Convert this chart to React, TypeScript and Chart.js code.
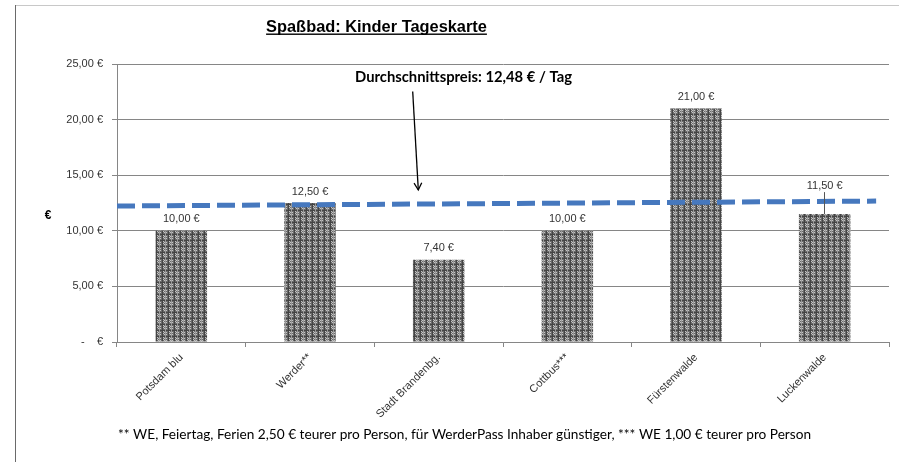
import React, { useEffect, useRef } from "react";
import { Chart, registerables } from "chart.js";

Chart.register(...registerables);

// ---- data ----
const categories = ["Potsdam blu", "Werder**", "Stadt Brandenbg.", "Cottbus***", "Fürstenwalde", "Luckenwalde"];
const prices = [10, 12.5, 7.4, 10, 21, 11.5];
const yMin = 0;
const yMax = 25;
const yStep = 5;
const trendX = [0, 5.9];
const trendY = [12.23, 12.67];
const titleText = "Spaßbad: Kinder Tageskarte";
const averageText = "Durchschnittspreis: 12,48 € / Tag";
const footnoteText =
  "** WE, Feiertag, Ferien 2,50 € teurer pro Person, für WerderPass Inhaber günstiger, *** WE 1,00 € teurer pro Person";
const yAxisTitle = "€";
const leaderLabelIndex = 5;

const fmtEuro = (v: number) =>
  v === 0 ? "-\u00a0\u00a0\u00a0\u00a0€" : v.toFixed(2).replace(".", ",") + " €";

function makePattern(ctx: CanvasRenderingContext2D) {
  const c = document.createElement("canvas");
  c.width = 6;
  c.height = 6;
  const g = c.getContext("2d")!;
  g.fillStyle = "#6a6a6a";
  g.fillRect(0, 0, 6, 6);
  g.fillStyle = "#c4c4c4";
  for (let r = 1; r <= 4; r++) {
    for (let col = 1; col <= 4; col++) {
      if ((r + col) % 2 === 0) g.fillRect(col, r, 1, 1);
    }
  }
  g.fillStyle = "#444444";
  g.fillRect(0, 0, 6, 1);
  g.fillRect(0, 0, 1, 6);
  g.fillStyle = "#9a9a9a";
  g.fillRect(3, 0, 1, 6);
  return ctx.createPattern(c, "repeat")!;
}

const TEXT_COLOR = "#333333";
const GRID_COLOR = "#868686";
const SANS = '"Liberation Sans", Arial, sans-serif';

const decorPlugin = {
  id: "decor",
  beforeDraw(chart: any) {
    const ctx = chart.ctx as CanvasRenderingContext2D;
    ctx.save();
    ctx.fillStyle = "#ffffff";
    ctx.fillRect(0, 0, chart.width, chart.height);
    ctx.strokeStyle = "#c8c8c8";
    ctx.lineWidth = 1;
    ctx.beginPath();
    ctx.moveTo(15, 5.5);
    ctx.lineTo(chart.width, 5.5);
    ctx.stroke();
    ctx.strokeStyle = "#6a6a6a";
    ctx.beginPath();
    ctx.moveTo(15.5, 5);
    ctx.lineTo(15.5, chart.height);
    ctx.stroke();
    ctx.restore();
  },
  afterDraw(chart: any) {
    const ctx = chart.ctx as CanvasRenderingContext2D;
    ctx.save();

    // title (bold, underlined), fitted to reference width
    ctx.fillStyle = "#000";
    ctx.textAlign = "left";
    ctx.textBaseline = "alphabetic";
    ctx.font = `bold 16px ${SANS}`;
    let w = ctx.measureText(titleText).width;
    let size = (16 * 221) / w;
    ctx.font = `bold ${size.toFixed(2)}px ${SANS}`;
    const tw = ctx.measureText(titleText).width;
    const tx = 376.5 - tw / 2;
    ctx.fillText(titleText, tx, 32);
    ctx.fillRect(tx, 33.5, tw, 1.4);

    // y axis title
    ctx.font = `bold 12px ${SANS}`;
    ctx.textAlign = "center";
    ctx.textBaseline = "middle";
    ctx.fillText(yAxisTitle, 48, 216);

    // average annotation (fit width)
    ctx.textAlign = "left";
    ctx.font = `bold 14px Lato, "Open Sans", sans-serif`;
    w = ctx.measureText(averageText).width;
    size = (14 * 217) / w;
    ctx.font = `bold ${size.toFixed(2)}px Lato, "Open Sans", sans-serif`;
    ctx.fillText(averageText, 355, 77);

    // arrow
    const x1 = 412.7, y1 = 91.5, x2 = 418.3, y2 = 190;
    ctx.strokeStyle = "#000";
    ctx.lineWidth = 1.3;
    ctx.beginPath();
    ctx.moveTo(x1, y1);
    ctx.lineTo(x2, y2);
    ctx.stroke();
    const ang = Math.atan2(y2 - y1, x2 - x1);
    const ah = 8;
    ctx.beginPath();
    ctx.moveTo(x2 - ah * Math.cos(ang - 0.5), y2 - ah * Math.sin(ang - 0.5));
    ctx.lineTo(x2, y2);
    ctx.lineTo(x2 - ah * Math.cos(ang + 0.5), y2 - ah * Math.sin(ang + 0.5));
    ctx.stroke();

    // bar value labels
    const meta = chart.getDatasetMeta(1);
    ctx.font = `11px ${SANS}`;
    ctx.fillStyle = TEXT_COLOR;
    ctx.textAlign = "center";
    ctx.textBaseline = "middle";
    meta.data.forEach((el: any, i: number) => {
      const v = prices[i];
      if (i === leaderLabelIndex) {
        ctx.fillText(fmtEuro(v), el.x, el.y - 28);
        ctx.strokeStyle = "#555";
        ctx.lineWidth = 1;
        ctx.beginPath();
        ctx.moveTo(Math.round(el.x) - 0.5, el.y - 22);
        ctx.lineTo(Math.round(el.x) - 0.5, el.y);
        ctx.stroke();
      } else {
        ctx.fillText(fmtEuro(v), el.x, el.y - 11.5);
      }
    });

    // footnote (fit width)
    ctx.fillStyle = "#000";
    ctx.textAlign = "left";
    ctx.font = `13px Lato, "Open Sans", sans-serif`;
    w = ctx.measureText(footnoteText).width;
    size = (13 * 694) / w;
    ctx.font = `${size.toFixed(2)}px Lato, "Open Sans", sans-serif`;
    ctx.fillText(footnoteText, 118, 435);

    ctx.restore();
  },
};

export default function App() {
  const ref = useRef<HTMLCanvasElement | null>(null);

  useEffect(() => {
    document.body.style.margin = "0";
    const canvas = ref.current!;
    const ctx = canvas.getContext("2d")!;
    const pattern = makePattern(ctx);

    const chart = new Chart(canvas, {
      type: "bar",
      data: {
        labels: categories,
        datasets: [
          {
            type: "line",
            label: "Durchschnitt",
            data: trendX.map((x, i) => ({ x, y: trendY[i] })),
            xAxisID: "xl",
            yAxisID: "y",
            borderColor: "#4678BE",
            borderWidth: 5,
            borderDash: [18, 7],
            borderCapStyle: "butt",
            pointRadius: 0,
            fill: false,
            tension: 0,
            order: 0,
          } as any,
          {
            type: "bar",
            label: "Preis",
            data: prices,
            xAxisID: "x",
            yAxisID: "y",
            backgroundColor: pattern as any,
            borderWidth: 0,
            categoryPercentage: 1,
            barPercentage: 0.4,
            grouped: false,
            order: 1,
          } as any,
        ],
      },
      options: {
        responsive: false,
        animation: false,
        devicePixelRatio: 1,
        layout: { padding: { top: 64, right: 10, left: 0, bottom: 0 } },
        plugins: {
          legend: { display: false },
          tooltip: { enabled: false },
          title: { display: false },
        },
        scales: {
          x: {
            type: "category",
            offset: true,
            grid: {
              display: true,
              drawOnChartArea: false,
              drawTicks: true,
              tickLength: 5,
              color: GRID_COLOR,
              offset: true,
            },
            border: { display: true, color: GRID_COLOR, width: 1 },
            ticks: {
              minRotation: 45,
              maxRotation: 45,
              autoSkip: false,
              color: TEXT_COLOR,
              font: { family: SANS, size: 11 },
              padding: 4,
            },
            afterFit: (s: any) => {
              s.height = 120;
            },
          },
          xl: {
            type: "linear",
            display: false,
            offset: false,
            grid: { offset: false },
            min: 0,
            max: categories.length,
          },
          y: {
            type: "linear",
            min: yMin,
            max: yMax,
            ticks: {
              stepSize: yStep,
              color: TEXT_COLOR,
              font: { family: SANS, size: 11 },
              padding: 9,
              callback: (v: any) => fmtEuro(Number(v)),
            },
            grid: {
              color: GRID_COLOR,
              lineWidth: 1,
              drawTicks: true,
              tickLength: 5,
            },
            border: { display: true, color: GRID_COLOR, width: 1 },
            afterFit: (s: any) => {
              s.width = 117;
            },
          },
        },
      },
      plugins: [decorPlugin],
    } as any);

    return () => chart.destroy();
  }, []);

  return (
    <div style={{ width: 899, height: 462 }}>
      <canvas ref={ref} width={899} height={462} style={{ display: "block", width: 899, height: 462 }} />
    </div>
  );
}
